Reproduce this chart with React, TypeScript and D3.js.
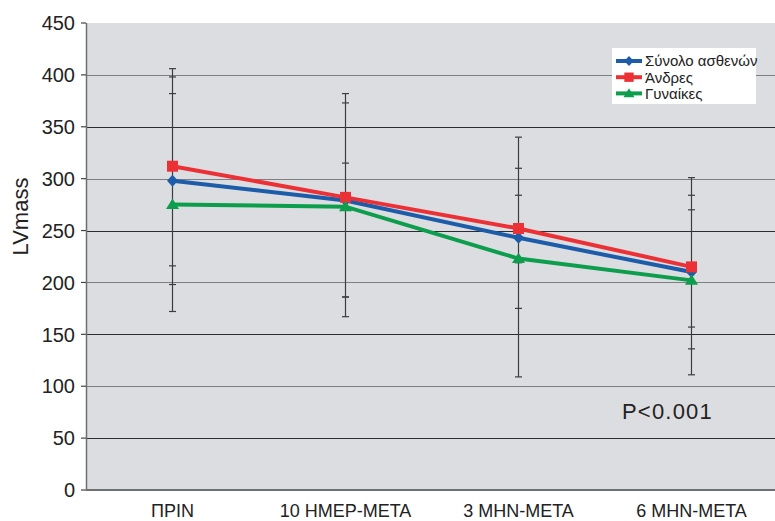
import React from 'react';
import * as d3 from 'd3';

// Time points and series
const categories = ['ΠΡΙΝ', '10 ΗΜΕΡ-ΜΕΤΑ', '3 ΜΗΝ-ΜΕΤΑ', '6 ΜΗΝ-ΜΕΤΑ'];
const seriesNames = ['Σύνολο ασθενών', 'Άνδρες', 'Γυναίκες'];

// Mean LV mass per group
const totalValues = [298, 279, 243, 210];
const menValues = [312, 282, 252, 215];
const womenValues = [275, 273, 223, 202];

// Error bar ends (upper / lower) per group
const totalHigh = [398, 373, 310, 284];
const totalLow = [198, 186, 175, 136];
const menHigh = [406, 382, 340, 301];
const menLow = [216, 186, 219, 111];
const womenHigh = [382, 315, 284, 270];
const womenLow = [172, 167, 109, 157];

const yTicks = [0, 50, 100, 150, 200, 250, 300, 350, 400, 450];
const yLabel = 'LVmass';
const pLabel = 'P<0.001';

const W = 775;
const H = 521;
const plotLeft = 86;
const plotTop = 23;
const plotBottom = 490;

const FONT = "'Liberation Sans', Arial, Helvetica, sans-serif";

type Marker = 'diamond' | 'square' | 'triangle';

const series = [
  { name: seriesNames[0], values: totalValues, high: totalHigh, low: totalLow, color: '#1c5ca8', marker: 'diamond' as Marker },
  { name: seriesNames[1], values: menValues, high: menHigh, low: menLow, color: '#ec3136', marker: 'square' as Marker },
  { name: seriesNames[2], values: womenValues, high: womenHigh, low: womenLow, color: '#0c9e4c', marker: 'triangle' as Marker },
];

function markerPath(kind: Marker): string {
  if (kind === 'diamond') return 'M0,-6L5.5,0L0,6L-5.5,0Z';
  if (kind === 'square') return 'M-5.5,-5.5H5.5V5.5H-5.5Z';
  return 'M0,-6L6.5,4.5L-6.5,4.5Z';
}

export default function App() {
  const x = d3.scaleBand<string>().domain(categories).range([plotLeft, plotLeft + 692]);
  const y = d3.scaleLinear().domain([0, 450]).range([plotBottom, plotTop]);
  const cx = (c: string) => (x(c) as number) + x.bandwidth() / 2;

  const line = d3
    .line<number>()
    .x((_, i) => cx(categories[i]))
    .y((v) => y(v));

  return (
    <svg
      width={W}
      height={H}
      style={{ position: 'fixed', left: 0, top: 0, background: '#ffffff', display: 'block' }}
      fontFamily={FONT}
    >
      {/* plot background */}
      <rect x={plotLeft} y={plotTop} width={W - plotLeft} height={plotBottom - plotTop} fill="#dcdde0" />

      {/* gridlines */}
      {yTicks.filter((t) => t > 0 && t < 450).map((t) => (
        <line
          key={'g' + t}
          x1={plotLeft}
          x2={W}
          y1={Math.round(y(t)) + 0.5}
          y2={Math.round(y(t)) + 0.5}
          stroke={t % 100 === 0 ? '#7d7f82' : '#2c2d30'}
          strokeWidth={1.2}
        />
      ))}

      {/* y axis */}
      <line x1={plotLeft + 0.5} x2={plotLeft + 0.5} y1={plotTop} y2={plotBottom} stroke="#6d6f72" strokeWidth={1.5} />
      {yTicks.map((t) => (
        <g key={'t' + t}>
          <line x1={plotLeft - 5} x2={plotLeft} y1={y(t)} y2={y(t)} stroke="#444" strokeWidth={1.2} />
          <text x={75} y={y(t)} dy="0.36em" textAnchor="end" fontSize={20} fill="#222">
            {t}
          </text>
        </g>
      ))}
      <text
        transform={`translate(28, ${(plotTop + plotBottom) / 2 - 40}) rotate(-90)`}
        textAnchor="middle"
        fontSize={22}
        fill="#222"
      >
        {yLabel}
      </text>

      {/* x axis */}
      <line x1={plotLeft} x2={W} y1={plotBottom} y2={plotBottom} stroke="#6d6f72" strokeWidth={2} />
      {categories.map((c) => (
        <text key={c} x={cx(c)} y={517} textAnchor="middle" fontSize={18} fill="#222">
          {c}
        </text>
      ))}

      {/* error bars */}
      {categories.map((c, i) => {
        const xc = cx(c);
        const ends = series.flatMap((s) => [s.high[i], s.low[i]]);
        const top = d3.max(ends) as number;
        const bottom = d3.min(ends) as number;
        return (
          <g key={'e' + c} stroke="#3a3c40" strokeWidth={1.2}>
            <line x1={xc} x2={xc} y1={y(top)} y2={y(bottom)} />
            {ends.map((v, k) => (
              <line key={k} x1={xc - 3.5} x2={xc + 3.5} y1={y(v)} y2={y(v)} />
            ))}
          </g>
        );
      })}

      {/* series lines and markers */}
      {series.map((s) => (
        <g key={s.name}>
          <path d={line(s.values) as string} fill="none" stroke={s.color} strokeWidth={4} />
          {s.values.map((v, i) => (
            <path
              key={i}
              d={markerPath(s.marker)}
              transform={`translate(${cx(categories[i])}, ${y(v)})`}
              fill={s.color}
            />
          ))}
        </g>
      ))}

      {/* legend */}
      <g>
        <rect x={612} y={48} width={144} height={56} fill="#ffffff" />
        {series.map((s, i) => {
          const ly = 61 + i * 16.2;
          return (
            <g key={'l' + s.name}>
              <line x1={616} x2={642} y1={ly} y2={ly} stroke={s.color} strokeWidth={4} />
              <path d={markerPath(s.marker)} transform={`translate(629, ${ly}) scale(0.85)`} fill={s.color} />
              <text x={645} y={ly} dy="0.36em" fontSize={15} fill="#222">
                {s.name}
              </text>
            </g>
          );
        })}
      </g>

      {/* significance note */}
      <text x={622} y={419} fontSize={22} letterSpacing={1.2} fill="#222">
        {pLabel}
      </text>
    </svg>
  );
}
